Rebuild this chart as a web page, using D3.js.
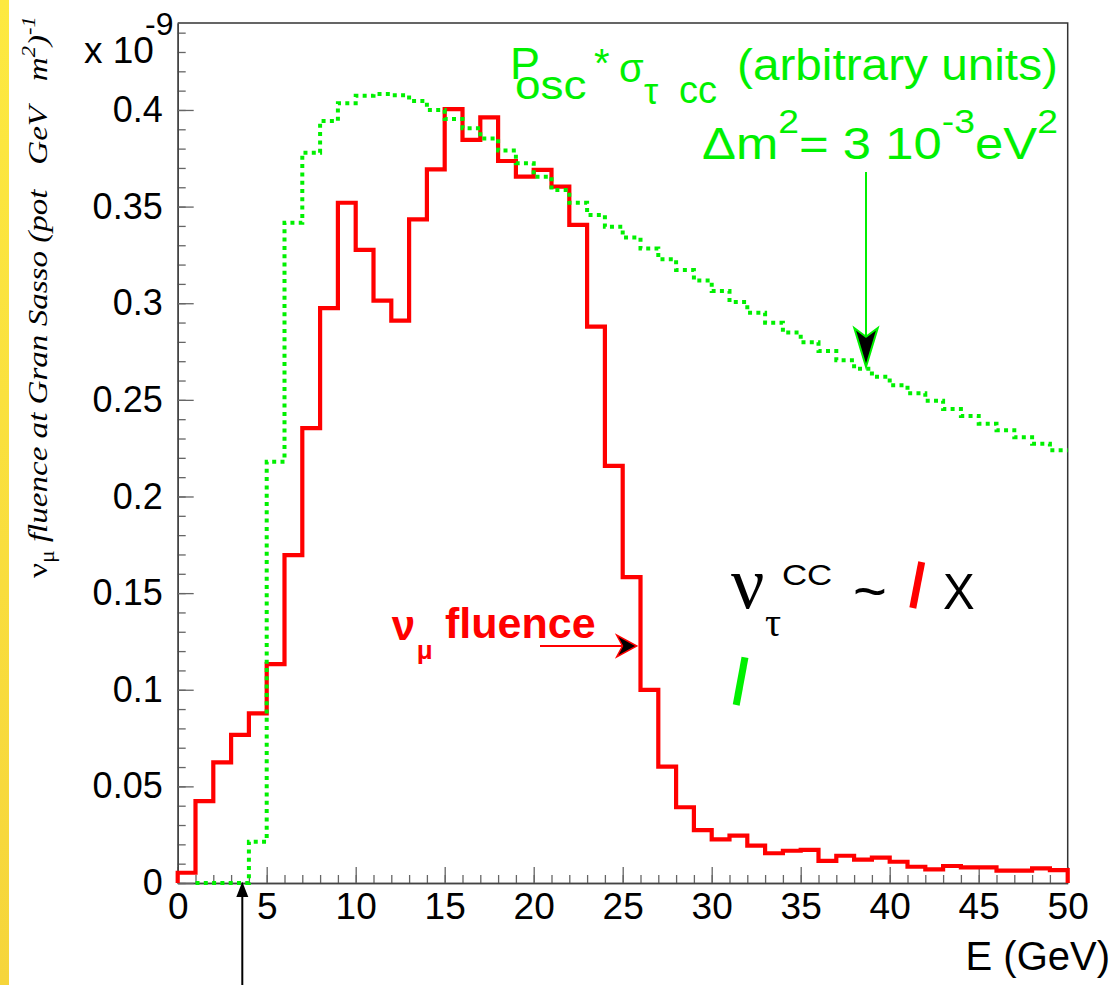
<!DOCTYPE html>
<html><head><meta charset="utf-8">
<script src="https://cdn.jsdelivr.net/npm/d3@7"></script>
<style>
html,body{margin:0;padding:0;background:#fff;}
svg{display:block;}
</style></head><body>
<svg id="chart" width="1119" height="985"></svg>
<script>
// ---------------- data ----------------
const binEdges = [0,1,2,3,4,5,6,7,8,9,10,11,12,13,14,15,16,17,18,19,20,21,22,23,24,25,26,27,28,29,30,31,32,33,34,35,36,37,38,39,40,41,42,43,44,45,46,47,48,49,50];
// nu_mu fluence (x 1e-9 / pot GeV m^2), one value per 1 GeV bin from 0 to 50
const numuFluence = [0.0053,0.0424,0.0624,0.0766,0.0878,0.1133,0.1697,0.2354,0.2975,0.352,
  0.3276,0.3013,0.291,0.3434,0.3693,0.4004,0.3845,0.3962,0.3736,0.3655,
  0.369,0.3603,0.3405,0.2879,0.2158,0.1583,0.0999,0.0602,0.0392,0.0274,
  0.0226,0.0245,0.0193,0.0154,0.0167,0.0171,0.0115,0.0141,0.0121,0.0131,
  0.011,0.0084,0.0071,0.0088,0.0081,0.0081,0.0064,0.0064,0.0076,0.0067];
// P_osc * sigma_tau CC (arbitrary units), bins from 1 GeV to 50 GeV
const oscBinEdges = [1,2,3,4,5,6,7,8,9,10,11,12,13,14,15,16,17,18,19,20,21,22,23,24,25,26,27,28,29,30,31,32,33,34,35,36,37,38,39,40,41,42,43,44,45,46,47,48,49,50];
const oscSigmaTau = [0,0,0,0.0214,0.218,0.3417,0.3779,0.3943,0.4035,
  0.4074,0.4083,0.4076,0.4047,0.4,0.3953,0.3905,0.3852,0.379,0.3724,
  0.3655,0.3586,0.352,0.3457,0.3396,0.334,0.3283,0.3228,0.3172,0.3118,
  0.3063,0.3006,0.2951,0.2899,0.2848,0.2798,0.2753,0.2705,0.2661,0.262,
  0.2575,0.2534,0.2496,0.2453,0.2417,0.2377,0.2343,0.2306,0.2273,0.2239];
const xTickValues = [0,5,10,15,20,25,30,35,40,45,50];
const xTickLabels = ["0","5","10","15","20","25","30","35","40","45","50"];
const yTickValues = [0,0.05,0.1,0.15,0.2,0.25,0.3,0.35,0.4];
const yTickLabels = ["0","0.05","0.1","0.15","0.2","0.25","0.3","0.35","0.4"];
const xMinorTicks = binEdges;
const yMinorTicks = [0,0.01,0.02,0.03,0.04,0.05,0.06,0.07,0.08,0.09,0.1,0.11,0.12,0.13,0.14,0.15,0.16,0.17,0.18,0.19,0.2,0.21,0.22,0.23,0.24,0.25,0.26,0.27,0.28,0.29,0.3,0.31,0.32,0.33,0.34,0.35,0.36,0.37,0.38,0.39,0.4,0.41,0.42,0.43,0.44];

// ---------------- setup ----------------
const SANS = '"Liberation Sans", Arial, Helvetica, sans-serif';
const SERIF = '"Liberation Serif", "Times New Roman", serif';
const RED = '#ff0000', GREEN = '#00f000';
const svg = d3.select('#chart');
const x = d3.scaleLinear().domain([0,50]).range([177.7,1067.7]);
const y = d3.scaleLinear().domain([0,0.445]).range([883,23]);

// yellow strip
const defs = svg.append('defs');
const lg = defs.append('linearGradient').attr('id','yg').attr('x1',0).attr('y1',0).attr('x2',0).attr('y2',1);
lg.append('stop').attr('offset','0%').attr('stop-color','#fde940');
lg.append('stop').attr('offset','100%').attr('stop-color','#f6d53b');
svg.append('rect').attr('x',0).attr('y',0).attr('width',9).attr('height',985).attr('fill','url(#yg)');

// frame (top & right)
svg.append('path').attr('d',`M${x(0)},${y(0.445)}H${x(50)}V${y(0)}`)
  .attr('fill','none').attr('stroke','#333').attr('stroke-width',1.5);

function styleAxis(g, size){
  g.attr('font-size',size).attr('font-family',SANS);
  g.selectAll('.domain').attr('stroke','#444').attr('stroke-width',1.5);
  g.selectAll('.tick line').attr('stroke','#666').attr('stroke-width',1.3);
  g.selectAll('.tick text').attr('fill','#000');
}
// x axis
const gxMinor = svg.append('g').attr('transform',`translate(0,${y(0)})`)
  .call(d3.axisBottom(x).tickValues(xMinorTicks).tickSize(-8).tickSizeOuter(0).tickFormat(''));
styleAxis(gxMinor, 37);
const gx = svg.append('g').attr('transform',`translate(0,${y(0)})`)
  .call(d3.axisBottom(x).tickValues(xTickValues).tickSize(-16).tickSizeOuter(0).tickPadding(10)
    .tickFormat((d,i)=>xTickLabels[i]));
styleAxis(gx, 37);
// y axis
const gyMinor = svg.append('g').attr('transform',`translate(${x(0)},0)`)
  .call(d3.axisLeft(y).tickValues(yMinorTicks).tickSize(-8).tickSizeOuter(0).tickFormat(''));
styleAxis(gyMinor, 36);
const gy = svg.append('g').attr('transform',`translate(${x(0)},0)`)
  .call(d3.axisLeft(y).tickValues(yTickValues).tickSize(-16).tickSizeOuter(0).tickPadding(15)
    .tickFormat((d,i)=>yTickLabels[i]));
styleAxis(gy, 36);

// ---------------- histograms ----------------
const stepLine = d3.line().x(d=>x(d[0])).y(d=>y(d[1])).curve(d3.curveStepAfter);
const redPts = [[binEdges[0],0]]
  .concat(numuFluence.map((v,i)=>[binEdges[i],v]))
  .concat([[binEdges[50],numuFluence[49]],[binEdges[50],0]]);
svg.append('path').attr('d',stepLine(redPts)).attr('fill','none')
  .attr('stroke',RED).attr('stroke-width',4.2).attr('stroke-linejoin','miter');
const grnPts = oscSigmaTau.map((v,i)=>[oscBinEdges[i],v])
  .concat([[oscBinEdges[oscBinEdges.length-1],oscSigmaTau[oscSigmaTau.length-1]]]);
svg.append('path').attr('d',stepLine([[oscBinEdges[0],0]].concat(grnPts))).attr('fill','none')
  .attr('stroke',GREEN).attr('stroke-width',4).attr('stroke-dasharray','4,4.3');

// ---------------- text helpers ----------------
function lbl(left, baseline, size, fill, str, opts={}){
  const k = opts.k || 1;
  const g = svg.append('g').attr('transform',`translate(${left},0) scale(${k},1)`);
  g.append('text').attr('x',0).attr('y',baseline).attr('font-size',size)
    .attr('font-family',opts.family||SANS).attr('fill',fill)
    .attr('font-weight',opts.weight||'normal').attr('font-style',opts.style||'normal').text(str);
  return g;
}
function fitX(g, left, width){
  g.attr('transform',null);
  const bb = g.node().getBBox();
  const k = width / bb.width;
  g.attr('transform',`translate(${left - bb.x*k},0) scale(${k},1)`);
}

// "x 10^-9"
svg.append('text').attr('x',84).attr('y',63).attr('font-size',37).attr('font-family',SANS).text('x 10');
svg.append('text').attr('x',145).attr('y',35).attr('font-size',32).attr('font-family',SANS).text('-9');

// E (GeV)
svg.append('text').attr('x',1110).attr('y',970).attr('text-anchor','end')
  .attr('font-size',40).attr('font-family',SANS).text('E (GeV)');

// y axis title (rotated)
{
  const outer = svg.append('g').attr('transform','translate(47,578) rotate(-90)');
  const inner = outer.append('g');
  const t = inner.append('text').attr('x',0).attr('y',0).attr('font-size',28)
    .attr('font-family',SERIF).attr('font-style','italic').attr('fill','#000');
  t.append('tspan').attr('font-style','normal').text('ν');
  t.append('tspan').attr('font-style','normal').attr('font-size',20).attr('dy',7).text('μ');
  t.append('tspan').attr('dy',-7).text(' fluence at Gran Sasso (pot\u00A0\u00A0\u00A0GeV\u00A0\u00A0\u00A0m');
  t.append('tspan').attr('font-size',19).attr('dy',-12).text('2');
  t.append('tspan').attr('dy',12).text(')');
  t.append('tspan').attr('font-size',19).attr('dy',-12).text('-1');
  const bb = inner.node().getBBox();
  const k = 562 / bb.width;
  inner.attr('transform',`translate(${-bb.x*k},0) scale(${k},1)`);
}

// green title
lbl(510, 79, 45, GREEN, 'P');
lbl(515, 99, 40, GREEN, 'osc', {k:1.15});
lbl(594, 77, 40, GREEN, '*');
lbl(619, 82, 40, GREEN, 'σ');
lbl(644, 104, 36, GREEN, 'τ');
lbl(679, 103, 38, GREEN, 'cc');
fitX(lbl(737, 80, 45, GREEN, '(arbitrary units)'), 737, 321);
{
  const g = svg.append('g');
  const t = g.append('text').attr('x',0).attr('y',159).attr('font-size',45)
    .attr('font-family',SANS).attr('fill',GREEN);
  t.append('tspan').text('Δm');
  t.append('tspan').attr('font-size',33).attr('dy',-26).text('2');
  t.append('tspan').attr('dy',26).text('= 3 10');
  t.append('tspan').attr('font-size',33).attr('dy',-26).text('-3');
  t.append('tspan').attr('dy',26).text('eV');
  t.append('tspan').attr('font-size',33).attr('dy',-26).text('2');
  fitX(g, 702, 356);
}
// green arrow
svg.append('line').attr('x1',866).attr('y1',172).attr('x2',866).attr('y2',340)
  .attr('stroke',GREEN).attr('stroke-width',2);
svg.append('path').attr('d','M866,366.7L854.3,328L866,336.7L877.7,328Z')
  .attr('fill','#000').attr('stroke',GREEN).attr('stroke-width',2).attr('stroke-linejoin','miter');

// red label and arrow
lbl(391.7, 640, 42, RED, 'ν', {weight:'bold'});
lbl(416.7, 659, 26, RED, 'μ', {weight:'bold'});
lbl(445, 638.3, 43, RED, 'fluence', {weight:'bold'});
svg.append('line').attr('x1',540).attr('y1',646).attr('x2',622).attr('y2',646)
  .attr('stroke',RED).attr('stroke-width',2);
svg.append('path').attr('d','M636.7,646L616.7,635L622.5,646L616.7,657Z')
  .attr('fill','#000').attr('stroke',RED).attr('stroke-width',1.5);

// formula nu_tau^CC ~ / x /
lbl(731, 608.3, 74, '#000', 'ν', {family:SERIF});
lbl(765, 636, 40, '#000', 'τ', {family:SERIF});
lbl(782, 585, 30, '#000', 'CC', {k:1.16});
lbl(853, 611, 58, '#000', '~');
lbl(943, 609, 50, '#000', 'X', {k:0.95});
svg.append('line').attr('x1',921.7).attr('y1',562).attr('x2',912.8).attr('y2',608)
  .attr('stroke',RED).attr('stroke-width',7);
svg.append('line').attr('x1',745).attr('y1',657.3).attr('x2',736.2).attr('y2',705)
  .attr('stroke',GREEN).attr('stroke-width',7);

// black arrow at threshold
svg.append('line').attr('x1',242.3).attr('y1',985).attr('x2',242.3).attr('y2',895)
  .attr('stroke','#000').attr('stroke-width',2);
svg.append('path').attr('d','M242.3,881.7L236.3,897L248.3,897Z').attr('fill','#000');
</script>
</body></html>
